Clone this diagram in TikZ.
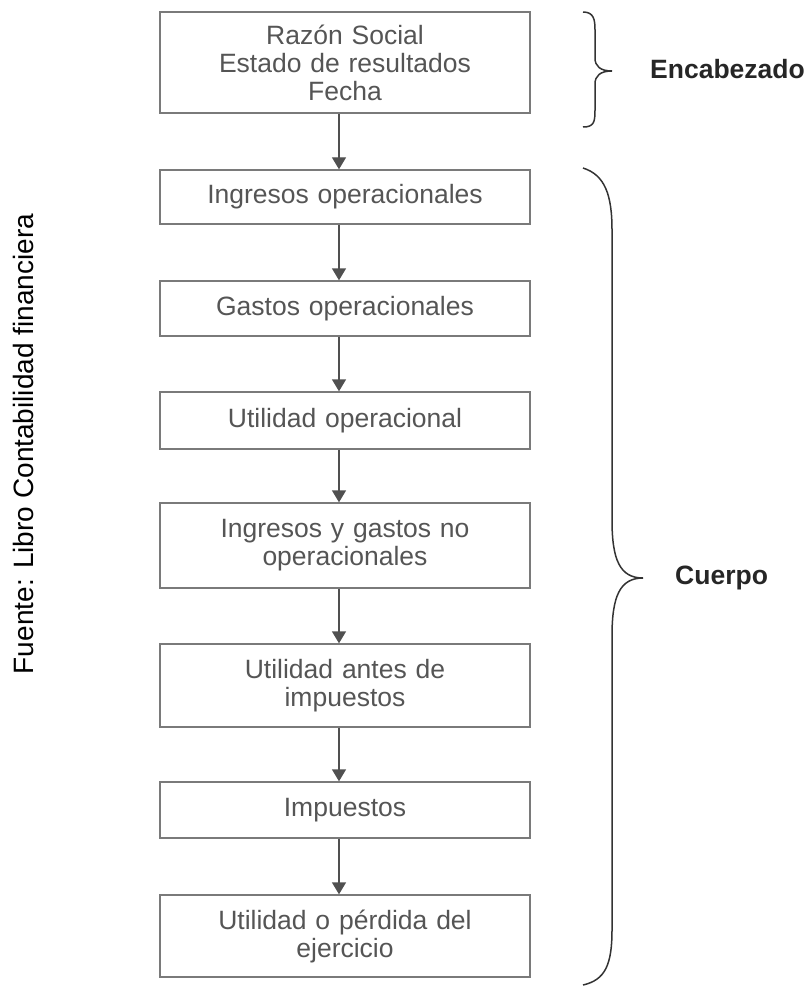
\documentclass[tikz,border=0pt]{standalone}
\usepackage{fontspec}
\setmainfont{Liberation Sans}
\usetikzlibrary{arrows.meta}
\definecolor{boxline}{HTML}{7A7A7A}
\definecolor{boxtext}{HTML}{555555}
\definecolor{arrline}{HTML}{505050}
\tikzset{
  stepbox/.style={draw=boxline, line width=1.4pt, minimum width=370pt, inner sep=0pt,
    text width=360pt, align=center, text=boxtext,
    font=\fontsize{26.5}{28}\selectfont},
  flow/.style={draw=arrline, line width=1.4pt, -{Triangle[length=12pt,width=14pt]}},
  bracestyle/.style={draw=black!80, line width=1.5pt},
  sidelabel/.style={font=\fontsize{26.5}{28}\selectfont\bfseries, text=black!85, anchor=west, inner sep=0pt}
}
\begin{document}
\begin{tikzpicture}[x=1pt, y=-1pt]
\useasboundingbox (0,0) rectangle (809,987);
\node[stepbox, minimum height=101pt] (b1) at (345,62.5) {Razón Social\\Estado de resultados\\Fecha};
\node[stepbox, minimum height=54pt] (b2) at (345,197) {Ingresos operacionales};
\node[stepbox, minimum height=55pt] (b3) at (345,308.5) {Gastos operacionales};
\node[stepbox, minimum height=57pt] (b4) at (345,420.5) {Utilidad operacional};
\node[stepbox, minimum height=85pt] (b5) at (345,545.5) {Ingresos y gastos no\\operacionales};
\node[stepbox, minimum height=83pt] (b6) at (345,685.5) {Utilidad antes de\\impuestos};
\node[stepbox, minimum height=56pt] (b7) at (345,810) {Impuestos};
\node[stepbox, minimum height=82pt] (b8) at (345,936) {Utilidad o pérdida del\\ejercicio};
\foreach \a/\b in {b1/b2,b2/b3,b3/b4,b4/b5,b5/b6,b6/b7,b7/b8}
  \draw[flow] ([xshift=-6pt]\a.south) -- ([xshift=-6pt]\b.north);
% braces
\draw[bracestyle] (583,12) .. controls (594,12) and (595,20) .. (595,30) -- (595,58)
  .. controls (595,66) and (600,71) .. (612,71)
  .. controls (600,71) and (595,76) .. (595,84) -- (595,110)
  .. controls (595,122) and (594,127) .. (583,127);
\draw[bracestyle] (583,168) .. controls (605,175) and (612,195) .. (612,230) -- (612,520)
  .. controls (612,560) and (620,578) .. (643,578)
  .. controls (620,578) and (612,596) .. (612,636) -- (612,930)
  .. controls (612,965) and (605,980) .. (583,985);
\node[sidelabel] (enc) at (650,69) {Encabezado};
\node[sidelabel] (cue) at (675,578) {Cuerpo};
\node[rotate=90, anchor=base, inner sep=0pt, font=\fontsize{28}{30}\selectfont] (src) at (33,444) {Fuente: Libro Contabilidad financiera};
\end{tikzpicture}
\end{document}
